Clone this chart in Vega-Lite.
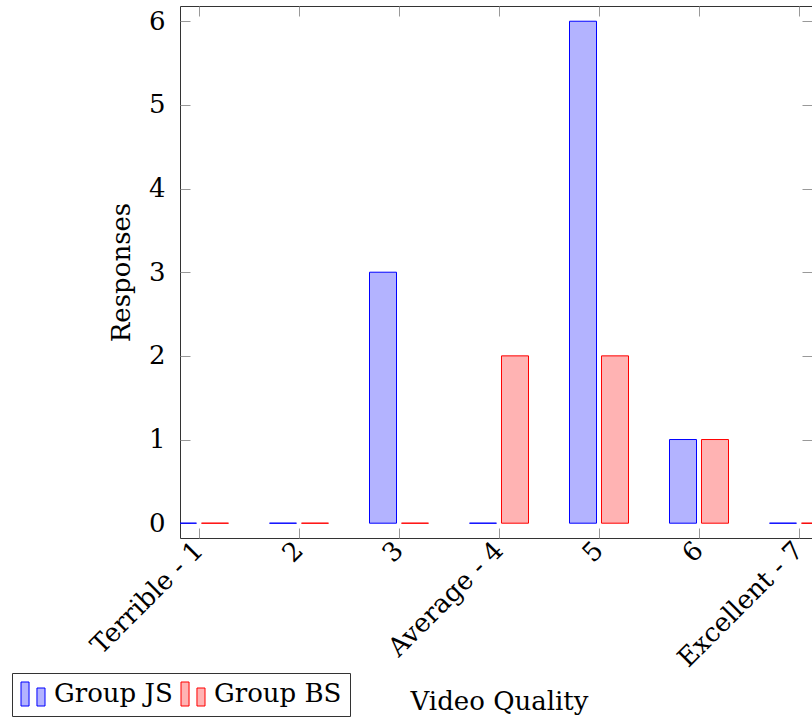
{
  "$schema": "https://vega.github.io/schema/vega-lite/v6.json",
  "autosize": {"type": "none"},
  "padding": {"left": 180, "top": 6, "right": 0, "bottom": 181},
  "width": 632,
  "height": 532,
  "background": "white",
  "config": {
    "view": {"stroke": "#333333", "strokeWidth": 1},
    "font": "DejaVu Serif",
    "axis": {
      "labelFont": "DejaVu Serif",
      "titleFont": "DejaVu Serif",
      "labelFontSize": 26,
      "titleFontSize": 26,
      "titleFontWeight": "normal",
      "labelColor": "black",
      "titleColor": "black",
      "grid": false,
      "domain": false,
      "tickColor": "#999999",
      "tickWidth": 1,
      "tickSize": -10
    }
  },
  "data": {
    "values": [
      {"quality": "Terrible - 1", "group": "Group JS", "responses": 0},
      {"quality": "2", "group": "Group JS", "responses": 0},
      {"quality": "3", "group": "Group JS", "responses": 3},
      {"quality": "Average - 4", "group": "Group JS", "responses": 0},
      {"quality": "5", "group": "Group JS", "responses": 6},
      {"quality": "6", "group": "Group JS", "responses": 1},
      {"quality": "Excellent - 7", "group": "Group JS", "responses": 0},
      {"quality": "Terrible - 1", "group": "Group BS", "responses": 0},
      {"quality": "2", "group": "Group BS", "responses": 0},
      {"quality": "3", "group": "Group BS", "responses": 0},
      {"quality": "Average - 4", "group": "Group BS", "responses": 2},
      {"quality": "5", "group": "Group BS", "responses": 2},
      {"quality": "6", "group": "Group BS", "responses": 1},
      {"quality": "Excellent - 7", "group": "Group BS", "responses": 0}
    ]
  },
  "layer": [
    {
      "mark": {"type": "bar", "clip": true, "strokeWidth": 1, "opacity": 1},
      "encoding": {
        "x": {
          "field": "quality",
          "type": "nominal",
          "scale": {
            "type": "band",
            "domain": ["Terrible - 1", "2", "3", "Average - 4", "5", "6", "Excellent - 7"],
            "range": [-10.5, 648.5],
            "paddingInner": 0.41,
            "paddingOuter": 0
          },
          "axis": {
            "orient": "bottom",
            "title": "Video Quality",
            "labelAngle": -45,
            "labelAlign": "right",
            "labelBaseline": "middle",
            "labelPadding": 18,
            "labelDx": -7,
            "titlePadding": 17
          }
        },
        "xOffset": {
          "field": "group",
          "type": "nominal",
          "scale": {"domain": ["Group JS", "Group BS"], "paddingInner": 0.156, "paddingOuter": 0}
        },
        "y": {
          "field": "responses",
          "type": "quantitative",
          "scale": {"domain": [-0.177, 6.182], "nice": false, "zero": false},
          "axis": {
            "orient": "left",
            "title": "Responses",
            "values": [0, 1, 2, 3, 4, 5, 6],
            "labelPadding": 25,
            "titlePadding": 14
          }
        },
        "y2": {"datum": 0},
        "fill": {
          "field": "group",
          "type": "nominal",
          "scale": {"domain": ["Group JS", "Group BS"], "range": ["#b3b3ff", "#ffb3b3"]},
          "legend": {
            "title": null,
            "orient": "none",
            "legendX": -168,
            "legendY": 667,
            "direction": "horizontal",
            "strokeColor": "#333333",
            "fillColor": "white",
            "padding": 8,
            "symbolType": "M-1,-1H-0.33V1H-1Z M0.33,-0.5H1V1H0.33Z",
            "symbolSize": 576,
            "symbolStrokeWidth": 1,
            "labelFont": "DejaVu Serif",
            "labelFontSize": 26,
            "labelColor": "black",
            "labelOffset": 8,
            "columnPadding": 6,
            "labelLimit": 300
          }
        },
        "stroke": {
          "field": "group",
          "type": "nominal",
          "scale": {"domain": ["Group JS", "Group BS"], "range": ["#0000ff", "#ff0000"]}
        }
      }
    },
    {
      "mark": {"type": "bar", "opacity": 0},
      "encoding": {
        "x": {
          "field": "quality",
          "type": "nominal",
          "axis": {"orient": "top", "labels": false, "title": null}
        },
        "y": {
          "field": "responses",
          "type": "quantitative",
          "axis": {"orient": "right", "labels": false, "title": null, "values": [0, 1, 2, 3, 4, 5, 6]}
        }
      }
    }
  ],
  "resolve": {"axis": {"x": "independent", "y": "independent"}}
}
